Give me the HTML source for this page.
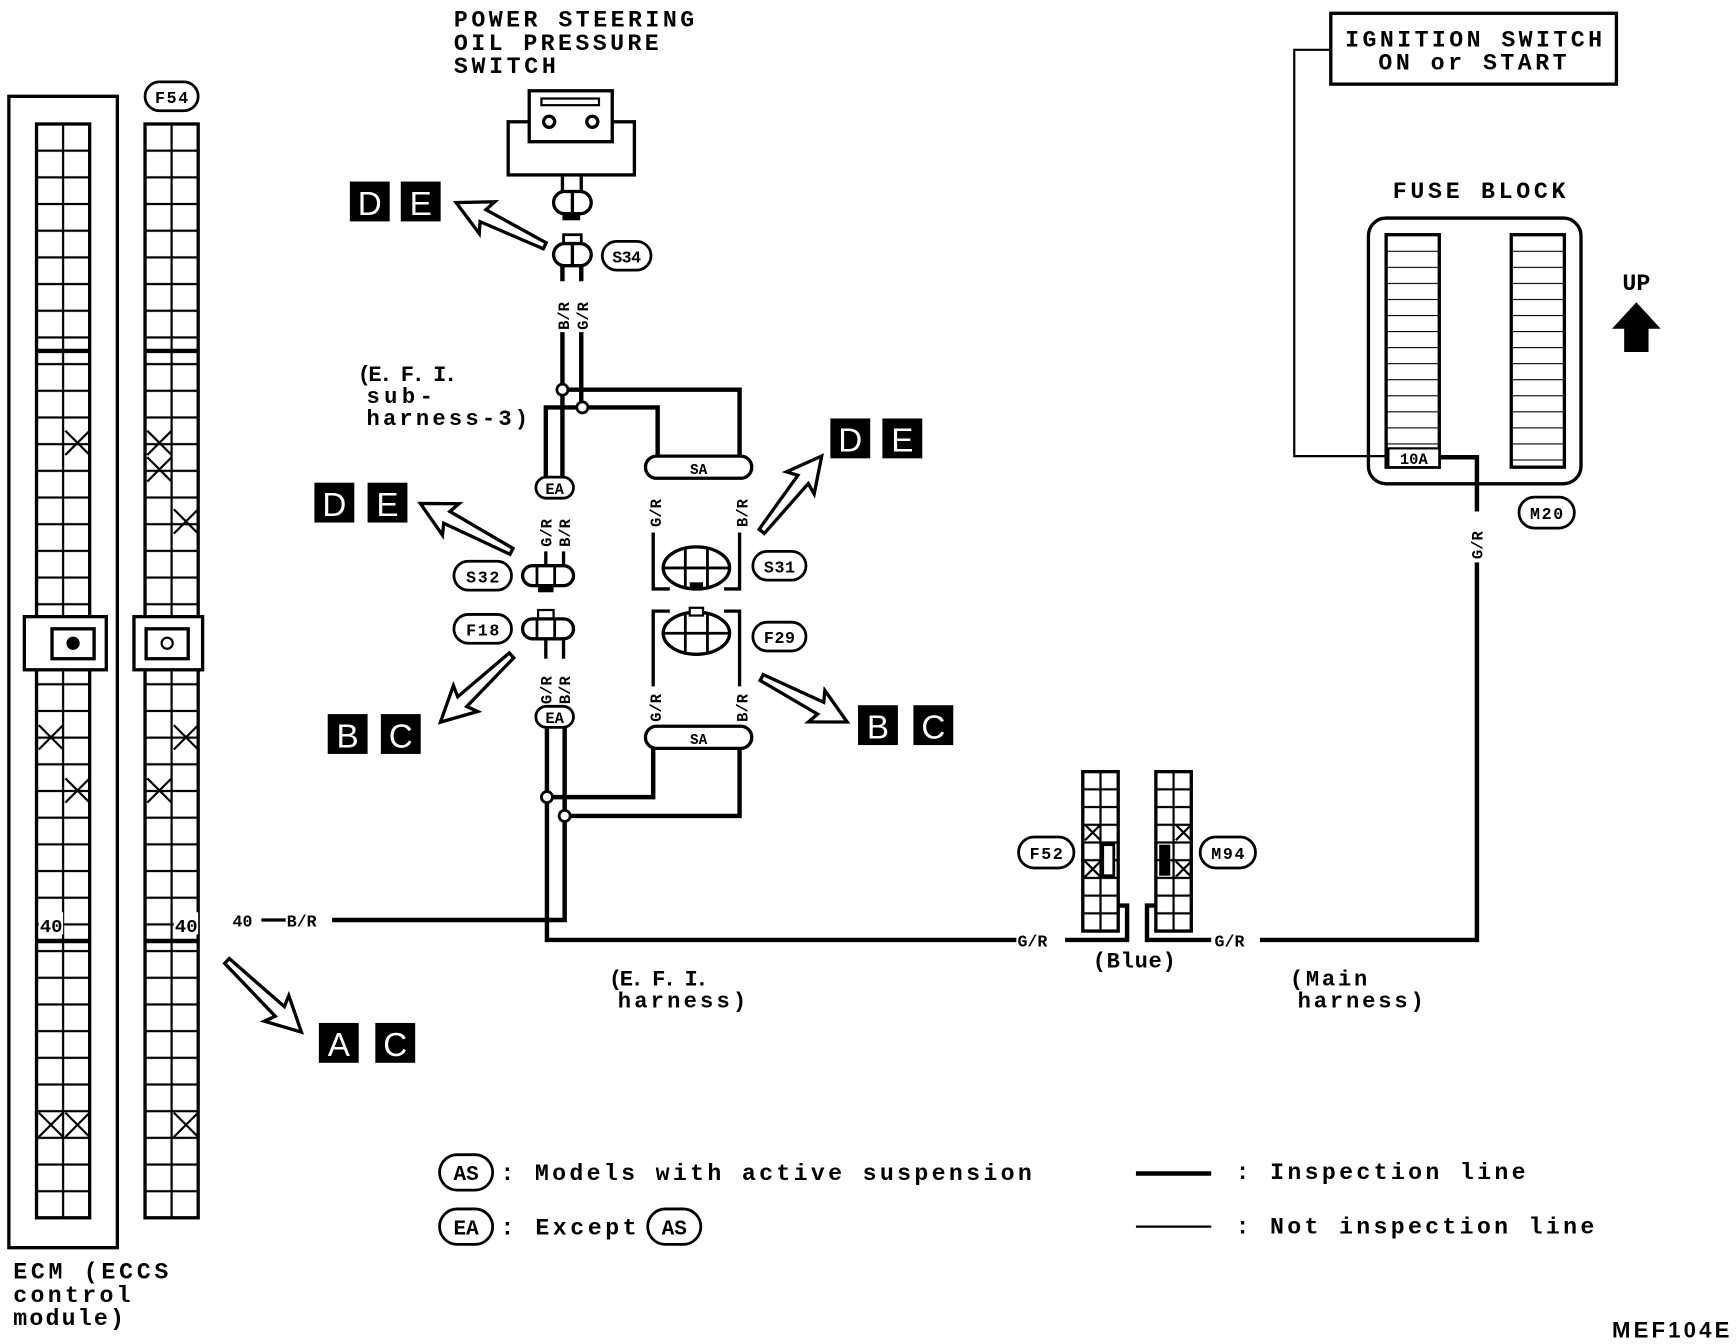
<!DOCTYPE html>
<html><head><meta charset="utf-8"><style>
html,body{margin:0;padding:0;background:#fff}
svg{display:block}
text{font-family:"Liberation Mono",monospace;font-weight:bold;fill:#000}
.w{fill:#fff;font-family:"Liberation Sans",sans-serif;font-weight:normal}
</style></head><body>
<svg width="1736" height="1344" viewBox="0 0 1568 1214" preserveAspectRatio="none" xmlns="http://www.w3.org/2000/svg">
<defs>
<pattern id="gA" patternUnits="userSpaceOnUse" x="33" y="112" width="24" height="24.1">
<rect x="0" y="0" width="24" height="24.1" fill="#fff" stroke="#000" stroke-width="2"/>
</pattern>
<pattern id="gB" patternUnits="userSpaceOnUse" x="131" y="112" width="24" height="24.1">
<rect x="0" y="0" width="24" height="24.1" fill="#fff" stroke="#000" stroke-width="2"/>
</pattern>
<pattern id="hA" patternUnits="userSpaceOnUse" x="978" y="697" width="16" height="16">
<rect x="0" y="0" width="16" height="16" fill="#fff" stroke="#000" stroke-width="2"/>
</pattern>
<pattern id="hB" patternUnits="userSpaceOnUse" x="1044" y="697" width="16" height="16">
<rect x="0" y="0" width="16" height="16" fill="#fff" stroke="#000" stroke-width="2"/>
</pattern>
<pattern id="f13" patternUnits="userSpaceOnUse" x="0" y="212" width="48" height="14.5">
<line x1="0" y1="0" x2="48" y2="0" stroke="#000" stroke-width="2"/>
</pattern>
</defs>

<!-- ECM -->
<rect x="8" y="87" width="98" height="1040" fill="none" stroke="#000" stroke-width="3"/>
<rect x="33" y="112" width="48" height="988" fill="url(#gA)" stroke="#000" stroke-width="3"/>
<rect x="131" y="112" width="48" height="988" fill="url(#gB)" stroke="#000" stroke-width="3"/>
<line x1="33" y1="317" x2="81" y2="317" stroke="#000" stroke-width="4"/>
<line x1="131" y1="317" x2="179" y2="317" stroke="#000" stroke-width="4"/>
<line x1="33" y1="850" x2="81" y2="850" stroke="#000" stroke-width="4"/>
<line x1="131" y1="850" x2="179" y2="850" stroke="#000" stroke-width="4"/>
<rect x="22" y="557" width="74" height="48" fill="#fff" stroke="#000" stroke-width="3"/>
<rect x="47" y="568" width="38" height="27" fill="#fff" stroke="#000" stroke-width="3"/>
<circle cx="66" cy="581" r="6" fill="#000"/>
<rect x="121" y="557" width="62" height="48" fill="#fff" stroke="#000" stroke-width="3"/>
<rect x="132" y="568" width="38" height="27" fill="#fff" stroke="#000" stroke-width="3"/>
<circle cx="151" cy="581" r="5" fill="#fff" stroke="#000" stroke-width="2"/>
<g stroke="#000" stroke-width="2">
<path d="M59,389l22,22M81,389l-22,22"/>
<path d="M35,655l22,22M57,655l-22,22"/>
<path d="M59,703l22,22M81,703l-22,22"/>
<path d="M35,1005l22,22M57,1005l-22,22M59,1005l22,22M81,1005l-22,22"/>
<path d="M133,389l22,22M155,389l-22,22M133,413l22,22M155,413l-22,22"/>
<path d="M157,460l22,22M179,460l-22,22"/>
<path d="M157,655l22,22M179,655l-22,22"/>
<path d="M133,703l22,22M155,703l-22,22"/>
<path d="M157,1005l22,22M179,1005l-22,22"/>
</g>
<rect x="35" y="824" width="22" height="20" fill="#fff"/>
<rect x="157" y="824" width="22" height="20" fill="#fff"/>
<text x="36" y="842" font-size="17">40</text>
<text x="158" y="842" font-size="17">40</text>
<rect x="131" y="74" width="48" height="26" rx="13" fill="#fff" stroke="#000" stroke-width="2.5"/>
<text x="155" y="93" font-size="15" text-anchor="middle" textLength="30">F54</text>
<text x="12" y="1155" font-size="21" textLength="140">ECM (ECCS</text>
<text x="12" y="1176" font-size="21" textLength="106">control</text>
<text x="12" y="1197" font-size="21" textLength="100">module)</text>

<!-- power steering switch -->
<text x="410" y="24" font-size="21" textLength="217">POWER STEERING</text>
<text x="410" y="45" font-size="21" textLength="185">OIL PRESSURE</text>
<text x="410" y="66" font-size="21" textLength="92">SWITCH</text>
<rect x="459" y="110" width="114" height="48" fill="none" stroke="#000" stroke-width="3"/>
<rect x="478" y="82" width="75" height="46" fill="#fff" stroke="#000" stroke-width="3"/>
<rect x="489" y="89" width="52" height="6" fill="none" stroke="#000" stroke-width="2"/>
<circle cx="496" cy="110" r="5" fill="#fff" stroke="#000" stroke-width="3"/>
<circle cx="535" cy="110" r="5" fill="#fff" stroke="#000" stroke-width="3"/>
<path d="M508,158v15M525,158v15" stroke="#000" stroke-width="3"/>
<rect x="500" y="173" width="34" height="20" rx="10" fill="#fff" stroke="#000" stroke-width="3"/>
<path d="M517,173v20" stroke="#000" stroke-width="3"/>
<rect x="508" y="193" width="16" height="6" fill="#000"/>
<!-- S34 -->
<rect x="509" y="212" width="16" height="8" fill="#fff" stroke="#000" stroke-width="2.5"/>
<rect x="500" y="220" width="34" height="20" rx="10" fill="#fff" stroke="#000" stroke-width="3"/>
<path d="M517,220v20" stroke="#000" stroke-width="3"/>
<rect x="544" y="218" width="44" height="26" rx="13" fill="#fff" stroke="#000" stroke-width="2.5"/>
<text x="566" y="237" font-size="15" text-anchor="middle" textLength="26">S34</text>
<g font-size="14">
<text transform="translate(514,298) rotate(-90)">B/R</text>
<text transform="translate(531,298) rotate(-90)">G/R</text>
</g>
<path d="M508,240v14M525,240v14M508,300v52M525,300v66" stroke="#000" stroke-width="4"/>

<text x="323" y="344" font-size="20" textLength="90">(E. F. I.</text>
<text x="331" y="364" font-size="20" textLength="60">sub-</text>
<text x="331" y="384" font-size="20" textLength="146">harness-3)</text>

<!-- upper wiring -->
<path d="M508,352H668V415" fill="none" stroke="#000" stroke-width="4"/>
<path d="M526,368H594V415" fill="none" stroke="#000" stroke-width="4"/>
<path d="M493,440V368H526" fill="none" stroke="#000" stroke-width="4"/>
<path d="M508,352V440" stroke="#000" stroke-width="4"/>
<circle cx="508" cy="352" r="5" fill="#fff" stroke="#000" stroke-width="2.5"/>
<circle cx="526" cy="368" r="5" fill="#fff" stroke="#000" stroke-width="2.5"/>
<rect x="583" y="412" width="96" height="20" rx="10" fill="#fff" stroke="#000" stroke-width="3"/>
<text x="631" y="428" font-size="13" text-anchor="middle">SA</text>
<rect x="484" y="431" width="34" height="19" rx="9.5" fill="#fff" stroke="#000" stroke-width="2.5"/>
<text x="501" y="446" font-size="14" text-anchor="middle">EA</text>
<g font-size="14">
<text transform="translate(498,494) rotate(-90)">G/R</text>
<text transform="translate(515,494) rotate(-90)">B/R</text>
<text transform="translate(597,476) rotate(-90)">G/R</text>
<text transform="translate(675,476) rotate(-90)">B/R</text>
<text transform="translate(498,636) rotate(-90)">G/R</text>
<text transform="translate(515,636) rotate(-90)">B/R</text>
<text transform="translate(597,652) rotate(-90)">G/R</text>
<text transform="translate(675,652) rotate(-90)">B/R</text>
</g>
<path d="M493,498v14M509,498v14M493,577v18M509,577v18" stroke="#000" stroke-width="3"/>
<!-- S32 -->
<rect x="472" y="511" width="46" height="18" rx="9" fill="#fff" stroke="#000" stroke-width="3"/>
<path d="M485,511v18M501,511v18" stroke="#000" stroke-width="2.5"/>
<rect x="486" y="529" width="14" height="6" fill="#000"/>
<rect x="410" y="507" width="52" height="26" rx="13" fill="#fff" stroke="#000" stroke-width="2.5"/>
<text x="436" y="526" font-size="15" text-anchor="middle" textLength="30">S32</text>
<!-- F18 -->
<rect x="486" y="551" width="14" height="8" fill="#fff" stroke="#000" stroke-width="2"/>
<rect x="472" y="559" width="46" height="18" rx="9" fill="#fff" stroke="#000" stroke-width="3"/>
<path d="M485,559v18M501,559v18" stroke="#000" stroke-width="2.5"/>
<rect x="410" y="555" width="52" height="26" rx="13" fill="#fff" stroke="#000" stroke-width="2.5"/>
<text x="436" y="574" font-size="15" text-anchor="middle" textLength="30">F18</text>
<!-- S31 -->
<path d="M590,481V532H605M668,481V532H654" fill="none" stroke="#000" stroke-width="3"/>
<ellipse cx="629" cy="513" rx="30" ry="19" fill="#fff" stroke="#000" stroke-width="3"/>
<path d="M599,513h60M619,495v36M639,495v36" stroke="#000" stroke-width="2.5"/>
<rect x="623" y="526" width="12" height="7" fill="#000"/>
<rect x="680" y="498" width="48" height="26" rx="13" fill="#fff" stroke="#000" stroke-width="2.5"/>
<text x="704" y="517" font-size="15" text-anchor="middle" textLength="28">S31</text>
<!-- F29 -->
<path d="M590,620V552H605M668,620V552H654" fill="none" stroke="#000" stroke-width="3"/>
<ellipse cx="629" cy="572" rx="30" ry="19" fill="#fff" stroke="#000" stroke-width="3"/>
<path d="M599,572h60M619,554v36M639,554v36" stroke="#000" stroke-width="2.5"/>
<rect x="623" y="549" width="12" height="7" fill="#fff" stroke="#000" stroke-width="2"/>
<rect x="680" y="562" width="48" height="26" rx="13" fill="#fff" stroke="#000" stroke-width="2.5"/>
<text x="704" y="581" font-size="15" text-anchor="middle" textLength="28">F29</text>

<!-- lower wiring -->
<rect x="484" y="638" width="34" height="19" rx="9.5" fill="#fff" stroke="#000" stroke-width="2.5"/>
<text x="501" y="653" font-size="14" text-anchor="middle">EA</text>
<rect x="583" y="656" width="96" height="20" rx="10" fill="#fff" stroke="#000" stroke-width="3"/>
<text x="631" y="672" font-size="13" text-anchor="middle">SA</text>
<path d="M494,657V849H918" fill="none" stroke="#000" stroke-width="4"/>
<path d="M510,657V831H300" fill="none" stroke="#000" stroke-width="4"/>
<path d="M494,720H590V676" fill="none" stroke="#000" stroke-width="4"/>
<path d="M510,737H668V676" fill="none" stroke="#000" stroke-width="4"/>
<circle cx="494" cy="720" r="5" fill="#fff" stroke="#000" stroke-width="2.5"/>
<circle cx="510" cy="737" r="5" fill="#fff" stroke="#000" stroke-width="2.5"/>
<text x="210" y="837" font-size="15">40</text>
<path d="M236,831h22" stroke="#000" stroke-width="3"/>
<text x="259" y="837" font-size="15">B/R</text>
<text x="919" y="855" font-size="15">G/R</text>
<path d="M962,849H1018V818H1010" fill="none" stroke="#000" stroke-width="4"/>
<text x="550" y="890" font-size="20" textLength="90">(E. F. I.</text>
<text x="558" y="910" font-size="20" textLength="116">harness)</text>

<!-- F52 / M94 -->
<rect x="978" y="697" width="32" height="144" fill="url(#hA)" stroke="#000" stroke-width="3"/>
<rect x="1044" y="697" width="32" height="144" fill="url(#hB)" stroke="#000" stroke-width="3"/>
<rect x="996" y="763" width="10" height="28" fill="#fff" stroke="#000" stroke-width="2.5"/>
<rect x="1047" y="763" width="10" height="28" fill="#000"/>
<g stroke="#000" stroke-width="2">
<path d="M980,745l14,14M994,745l-14,14M980,778l14,14M994,778l-14,14"/>
<path d="M1062,745l14,14M1076,745l-14,14M1062,778l14,14M1076,778l-14,14"/>
</g>
<path d="M1044,818H1036V849H1094" fill="none" stroke="#000" stroke-width="4"/>
<rect x="920" y="756" width="50" height="28" rx="14" fill="#fff" stroke="#000" stroke-width="2.5"/>
<text x="945" y="776" font-size="15" text-anchor="middle" textLength="30">F52</text>
<rect x="1084" y="756" width="50" height="28" rx="14" fill="#fff" stroke="#000" stroke-width="2.5"/>
<text x="1109" y="776" font-size="15" text-anchor="middle" textLength="30">M94</text>
<text x="987" y="874" font-size="20" textLength="75">(Blue)</text>
<text x="1097" y="855" font-size="15">G/R</text>
<path d="M1138,849H1334V413H1300" fill="none" stroke="#000" stroke-width="4"/>
<rect x="1326" y="462" width="16" height="46" fill="#fff"/>
<text transform="translate(1339,505) rotate(-90)" font-size="14">G/R</text>
<text x="1165" y="890" font-size="20" textLength="70">(Main</text>
<text x="1172" y="910" font-size="20" textLength="114">harness)</text>

<!-- ignition / fuse -->
<rect x="1202" y="12" width="258" height="64" fill="none" stroke="#000" stroke-width="3"/>
<text x="1215" y="42" font-size="21" textLength="232">IGNITION SWITCH</text>
<text x="1245" y="63" font-size="21" textLength="170">ON or START</text>
<path d="M1202,45H1169V412H1254" fill="none" stroke="#000" stroke-width="2"/>
<text x="1258" y="179" font-size="21" textLength="156">FUSE BLOCK</text>
<rect x="1236" y="197" width="192" height="240" rx="16" fill="none" stroke="#000" stroke-width="3"/>
<rect x="1252" y="212" width="48" height="210" fill="url(#f13)" stroke="#000" stroke-width="3"/>
<rect x="1365" y="212" width="48" height="210" fill="url(#f13)" stroke="#000" stroke-width="3"/>
<rect x="1254" y="405" width="46" height="17" fill="#fff" stroke="#000" stroke-width="2"/>
<text x="1277" y="419" font-size="14" text-anchor="middle">10A</text>
<rect x="1372" y="449" width="50" height="28" rx="14" fill="#fff" stroke="#000" stroke-width="2.5"/>
<text x="1397" y="469" font-size="15" text-anchor="middle" textLength="30">M20</text>
<text x="1478" y="262" font-size="21" text-anchor="middle">UP</text>
<polygon points="1478,273 1500,297 1489,297 1489,318 1467,318 1467,297 1456,297" fill="#000"/>

<!-- letter boxes -->
<g font-size="30">
<rect x="316" y="164" width="36" height="36" fill="#000"/><text class="w" x="334" y="194" text-anchor="middle">D</text>
<rect x="362" y="164" width="36" height="36" fill="#000"/><text class="w" x="380" y="194" text-anchor="middle">E</text>
<rect x="284" y="436" width="36" height="36" fill="#000"/><text class="w" x="302" y="466" text-anchor="middle">D</text>
<rect x="332" y="436" width="36" height="36" fill="#000"/><text class="w" x="350" y="466" text-anchor="middle">E</text>
<rect x="750" y="378" width="36" height="36" fill="#000"/><text class="w" x="768" y="408" text-anchor="middle">D</text>
<rect x="797" y="378" width="36" height="36" fill="#000"/><text class="w" x="815" y="408" text-anchor="middle">E</text>
<rect x="296" y="645" width="36" height="36" fill="#000"/><text class="w" x="314" y="675" text-anchor="middle">B</text>
<rect x="344" y="645" width="36" height="36" fill="#000"/><text class="w" x="362" y="675" text-anchor="middle">C</text>
<rect x="775" y="637" width="36" height="36" fill="#000"/><text class="w" x="793" y="667" text-anchor="middle">B</text>
<rect x="825" y="637" width="36" height="36" fill="#000"/><text class="w" x="843" y="667" text-anchor="middle">C</text>
<rect x="288" y="924" width="36" height="36" fill="#000"/><text class="w" x="306" y="954" text-anchor="middle">A</text>
<rect x="339" y="924" width="36" height="36" fill="#000"/><text class="w" x="357" y="954" text-anchor="middle">C</text>
</g>

<!-- hollow arrows -->
<g fill="#fff" stroke="#000" stroke-width="3" stroke-linejoin="miter">
<polygon transform="translate(492,222) rotate(206)" points="0,-3 62,-6 58,-16 89,0 58,16 62,6 0,3"/>
<polygon transform="translate(462,498) rotate(207.7)" points="0,-3 66,-6 62,-16 93,0 62,16 66,6 0,3"/>
<polygon transform="translate(688,480) rotate(-51.5)" points="0,-3 60,-6 56,-16 87,0 56,16 60,6 0,3"/>
<polygon transform="translate(462,592) rotate(136.8)" points="0,-3 61,-6 57,-16 88,0 57,16 61,6 0,3"/>
<polygon transform="translate(688,612) rotate(27.5)" points="0,-3 60,-6 56,-16 87,0 56,16 60,6 0,3"/>
<polygon transform="translate(205,868) rotate(43.7)" points="0,-3 66,-6 62,-16 93,0 62,16 66,6 0,3"/>
</g>

<!-- legend -->
<rect x="397" y="1043" width="48" height="32" rx="16" fill="#fff" stroke="#000" stroke-width="2.5"/>
<text x="421" y="1066" font-size="19" text-anchor="middle">AS</text>
<text x="452" y="1066" font-size="21" textLength="480">: Models with active suspension</text>
<rect x="397" y="1092" width="48" height="32" rx="16" fill="#fff" stroke="#000" stroke-width="2.5"/>
<text x="421" y="1115" font-size="19" text-anchor="middle">EA</text>
<text x="452" y="1115" font-size="21" textLength="123">: Except</text>
<rect x="585" y="1092" width="48" height="32" rx="16" fill="#fff" stroke="#000" stroke-width="2.5"/>
<text x="609" y="1115" font-size="19" text-anchor="middle">AS</text>
<path d="M1026,1060h68" stroke="#000" stroke-width="4"/>
<path d="M1026,1108h68" stroke="#000" stroke-width="2"/>
<text x="1116" y="1065" font-size="21" textLength="262">: Inspection line</text>
<text x="1116" y="1114" font-size="21" textLength="324">: Not inspection line</text>
<text x="1456" y="1208" font-size="20" textLength="106" style="font-family:'Liberation Sans',sans-serif">MEF104E</text>
</svg>
</body></html>
